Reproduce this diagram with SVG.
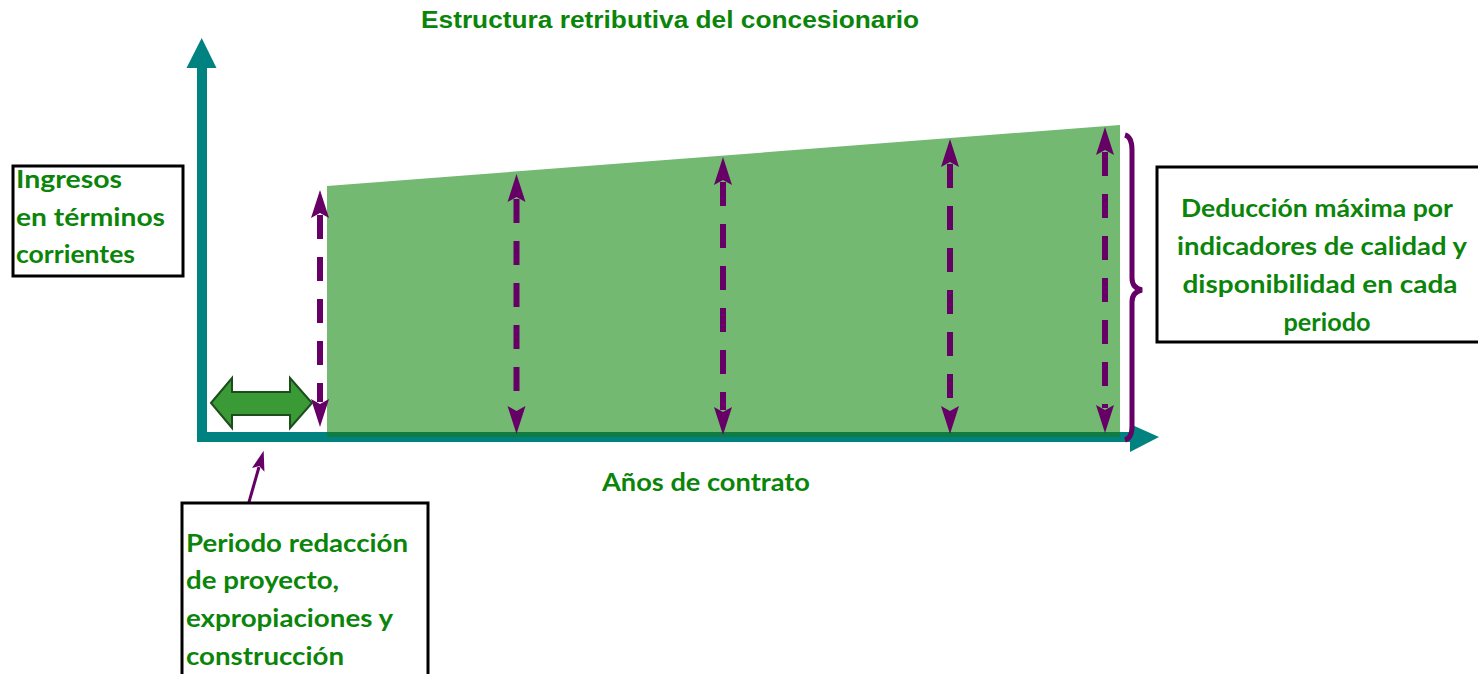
<svg xmlns="http://www.w3.org/2000/svg" width="1478" height="674" viewBox="0 0 1478 674">
<style>
.lbl{font-family:Lato,"Open Sans","Liberation Sans",sans-serif;font-weight:bold;font-size:24px;fill:#0a850a}
.ttl{font-family:"Liberation Sans",Arial,sans-serif;font-weight:bold;font-size:23px;fill:#0a850a}
.box{fill:#ffffff;stroke:#000000;stroke-width:3}
.dash{stroke:#660066;stroke-width:6;stroke-dasharray:24 18;fill:none}
.teal{fill:#008281}
</style>
<defs>
<marker id="ah" viewBox="0 -10 28 20" refX="3" refY="0" markerWidth="28" markerHeight="20" markerUnits="userSpaceOnUse" orient="auto-start-reverse">
<path d="M0,-9 L28,0 L0,9 L5,0 Z" fill="#660066"/>
</marker>
<marker id="ahs" viewBox="0 -7 20 14" refX="3" refY="0" markerWidth="20" markerHeight="14" markerUnits="userSpaceOnUse" orient="auto">
<path d="M0,-6.5 L20,0 L0,6.5 L4,0 Z" fill="#660066"/>
</marker>
</defs>

<g id="title">
<text class="ttl" x="670" y="28" text-anchor="middle" textLength="498" lengthAdjust="spacingAndGlyphs">Estructura retributiva del concesionario</text>
</g>

<g id="area">
<polygon points="327,186 1120,125 1120,434 327,434" fill="#73b972"/>
</g>

<g id="axes">
<rect class="teal" x="197" y="66" width="10" height="376"/>
<polygon class="teal" points="186.5,68 216.5,68 201.7,38"/>
<rect class="teal" x="197" y="432" width="934" height="10"/>
<polygon class="teal" points="1130,424 1130,452 1159,437"/>
<rect x="327" y="432" width="793" height="5" fill="#107c41"/>
</g>

<g id="connectors">
<line class="dash" x1="320" y1="215" x2="320" y2="402" marker-start="url(#ah)" marker-end="url(#ah)"/>
<line class="dash" x1="516.5" y1="199" x2="516.5" y2="409" marker-start="url(#ah)" marker-end="url(#ah)"/>
<line class="dash" x1="723" y1="182" x2="723" y2="410" marker-start="url(#ah)" marker-end="url(#ah)"/>
<line class="dash" x1="950" y1="164" x2="950" y2="409" marker-start="url(#ah)" marker-end="url(#ah)"/>
<line class="dash" x1="1105" y1="152" x2="1105" y2="408" marker-start="url(#ah)" marker-end="url(#ah)"/>
<path d="M1125,135 Q1132,137 1132,150 L1132,278 Q1132,288 1142,290 Q1132,292 1132,302 L1132,426 Q1132,438 1125,440" fill="none" stroke="#660066" stroke-width="5"/>
<line x1="243" y1="523" x2="259" y2="467" stroke="#660066" stroke-width="3" marker-end="url(#ahs)"/>
</g>

<g id="double-arrow">
<polygon points="211,403 232,378 232,392 290,392 290,378 312,403 290,428 290,415 232,415 232,428" fill="#3a9a35" stroke="#1d4d1d" stroke-width="2" stroke-linejoin="miter"/>
</g>

<g id="node-ingresos">
<rect class="box" x="13" y="166" width="170" height="110"/>
<text class="lbl" x="16" y="188" textLength="106" lengthAdjust="spacingAndGlyphs">Ingresos</text>
<text class="lbl" x="16" y="226" textLength="149" lengthAdjust="spacingAndGlyphs">en términos</text>
<text class="lbl" x="16" y="263" textLength="119" lengthAdjust="spacingAndGlyphs">corrientes</text>
</g>

<g id="node-deduccion">
<rect class="box" x="1157" y="167" width="330" height="175"/>
<text class="lbl" x="1317" y="217" text-anchor="middle" textLength="272" lengthAdjust="spacingAndGlyphs">Deducción máxima por</text>
<text class="lbl" x="1322" y="255" text-anchor="middle" textLength="290" lengthAdjust="spacingAndGlyphs">indicadores de calidad y</text>
<text class="lbl" x="1320" y="293" text-anchor="middle" textLength="275" lengthAdjust="spacingAndGlyphs">disponibilidad en cada</text>
<text class="lbl" x="1327" y="331" text-anchor="middle" textLength="87" lengthAdjust="spacingAndGlyphs">periodo</text>
</g>

<g id="node-periodo">
<rect class="box" x="182" y="503" width="246" height="180"/>
<text class="lbl" x="186" y="552" textLength="222" lengthAdjust="spacingAndGlyphs">Periodo redacción</text>
<text class="lbl" x="186" y="589" textLength="153" lengthAdjust="spacingAndGlyphs">de proyecto,</text>
<text class="lbl" x="186" y="627" textLength="207" lengthAdjust="spacingAndGlyphs">expropiaciones y</text>
<text class="lbl" x="186" y="665" textLength="158" lengthAdjust="spacingAndGlyphs">construcción</text>
</g>

<g id="axis-label">
<text class="lbl" x="706" y="491" text-anchor="middle" textLength="208" lengthAdjust="spacingAndGlyphs">Años de contrato</text>
</g>
</svg>
